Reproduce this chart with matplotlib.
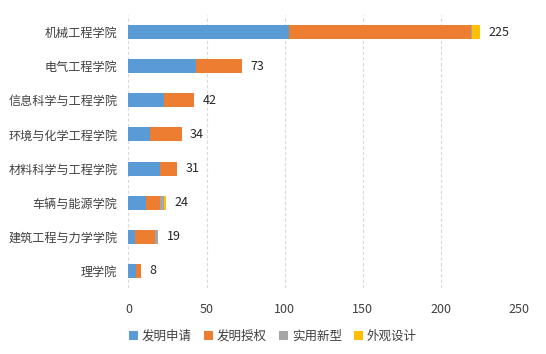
import matplotlib
matplotlib.use("Agg")
import matplotlib.pyplot as plt
import numpy as np

plt.rcParams['font.family'] = ['Noto Sans CJK SC', 'DejaVu Sans']

colleges = ['机械工程学院', '电气工程学院', '信息科学与工程学院', '环境与化学工程学院',
            '材料科学与工程学院', '车辆与能源学院', '建筑工程与力学学院', '理学院']
invent_apply = [103, 43, 23, 14, 20, 11, 4, 5]
invent_grant = [116, 30, 19, 20, 11, 9, 13, 3]
utility = [1, 0, 0, 0, 0, 3, 2, 0]
design = [5, 0, 0, 0, 0, 1, 0, 0]
series_names = ['发明申请', '发明授权', '实用新型', '外观设计']
colors = ['#5B9BD5', '#ED7D31', '#A5A5A5', '#FFC000']

fig = plt.figure(figsize=(5.46, 3.54), dpi=100)
ax = fig.add_axes([0.2353, 0.1864, 0.7152, 0.7712])

y = np.arange(len(colleges))
left = np.zeros(len(colleges))
for vals, name, c in zip([invent_apply, invent_grant, utility, design], series_names, colors):
    ax.barh(y, vals, left=left, height=0.41, color=c, label=name, zorder=3)
    left = left + np.array(vals)

for yi, tot in zip(y, left):
    ax.annotate(f'{int(tot)}', (tot, yi), xytext=(6, 0), textcoords='offset points',
                va='center', ha='left', fontsize=9, color='#262626')

ax.set_xlim(0, 250)
ax.set_ylim(len(colleges) - 0.5, -0.5)
ax.set_xticks(range(0, 251, 50))
ax.set_yticks(y)
ax.set_yticklabels(colleges)
ax.tick_params(length=0, labelsize=9, colors='#404040')
ax.tick_params(axis='y', labelsize=8.7, pad=8)
ax.tick_params(axis='x', pad=11)
for s in ax.spines.values():
    s.set_visible(False)
ax.grid(axis='x', linestyle=(0, (3, 2)), color='#D9D9D9', linewidth=0.8, zorder=0)

fig.legend(loc='lower center', ncol=4, frameon=False, fontsize=9,
           handlelength=0.7, handleheight=0.7, handletextpad=0.3, columnspacing=1.0,
           bbox_to_anchor=(0.5, 0.0), labelcolor='#404040')

fig.savefig('out.png', dpi=100)
